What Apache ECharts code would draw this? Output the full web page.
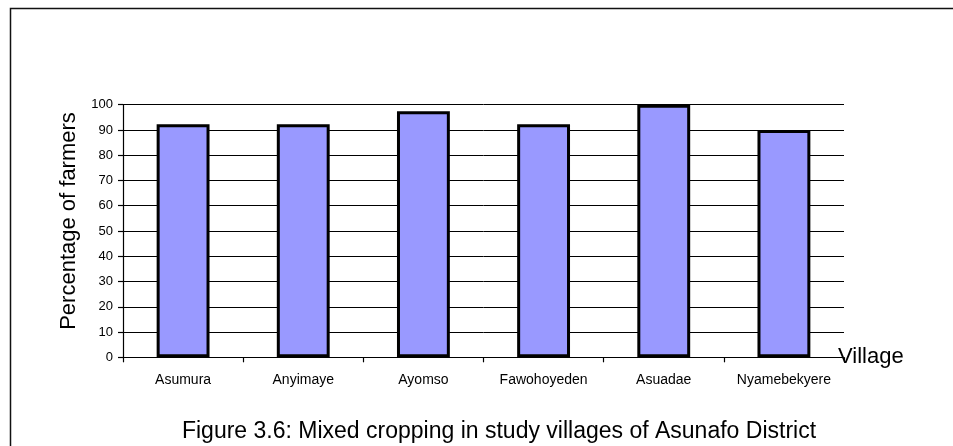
<!DOCTYPE html>
<html>
<head>
<meta charset="utf-8">
<script src="https://cdn.jsdelivr.net/npm/echarts@6/dist/echarts.min.js"></script>
<style>
  html, body { margin: 0; padding: 0; background: #fff; }
  #chart { width: 953px; height: 446px; }
</style>
</head>
<body>
<div id="chart"></div>
<script>
// Villages surveyed and share of farmers practising mixed cropping (%)
const villages = ['Asumura', 'Anyimaye', 'Ayomso', 'Fawohoyeden', 'Asuadae', 'Nyamebekyere'];
const mixedCropping = [92.3, 92.3, 97.4, 92.3, 100, 90];
const yTicks = { min: 0, max: 100, step: 10 };

const FONT = '"Liberation Sans", Arial, sans-serif';

const chart = echarts.init(document.getElementById('chart'), null, { renderer: 'canvas' });

chart.setOption({
  animation: false,
  backgroundColor: '#ffffff',
  title: {
    text: 'Figure 3.6: Mixed cropping in study villages of Asunafo District',
    left: 494,
    textAlign: 'center',
    top: 415,
    textStyle: { fontFamily: FONT, fontSize: 23, fontWeight: 'normal', color: '#000' }
  },
  graphic: [
    {
      // outer frame (left and top edges)
      type: 'polyline',
      shape: { points: [[10.5, 446], [10.5, 8.5], [953, 8.5]] },
      style: { stroke: '#111', lineWidth: 1.5, fill: null }
    }
  ],
  grid: { left: 123, right: 109, top: 104.7, bottom: 88.7, containLabel: false },
  xAxis: {
    type: 'category',
    data: villages,
    name: 'Village',
    nameLocation: 'end',
    nameGap: -6,
    nameTextStyle: { fontFamily: FONT, fontSize: 22, color: '#000', align: 'left', verticalAlign: 'middle', padding: [4, 0, 0, 0] },
    axisLine: { lineStyle: { color: '#000', width: 1.2 } },
    axisTick: { show: true, alignWithLabel: false, length: 5, lineStyle: { color: '#000', width: 1.2 } },
    axisLabel: { fontFamily: FONT, fontSize: 14, color: '#000', margin: 16, interval: 0 }
  },
  yAxis: {
    type: 'value',
    min: yTicks.min,
    max: yTicks.max,
    interval: yTicks.step,
    name: 'Percentage of farmers',
    nameLocation: 'middle',
    nameGap: 38,
    nameRotate: 90,
    nameTextStyle: { fontFamily: FONT, fontSize: 22, color: '#000', padding: [0, 0, 0, 20] },
    axisLine: { show: true, lineStyle: { color: '#000', width: 1.2 } },
    axisTick: { show: true, length: 5, lineStyle: { color: '#000', width: 1.2 } },
    axisLabel: { fontFamily: FONT, fontSize: 13, color: '#000', margin: 10 },
    splitLine: { show: true, lineStyle: { color: '#000', width: 1 } }
  },
  series: [
    {
      type: 'bar',
      data: mixedCropping,
      barWidth: '44%',
      itemStyle: { color: '#9999FF', borderColor: '#000', borderWidth: 3 }
    }
  ]
});
</script>
</body>
</html>
